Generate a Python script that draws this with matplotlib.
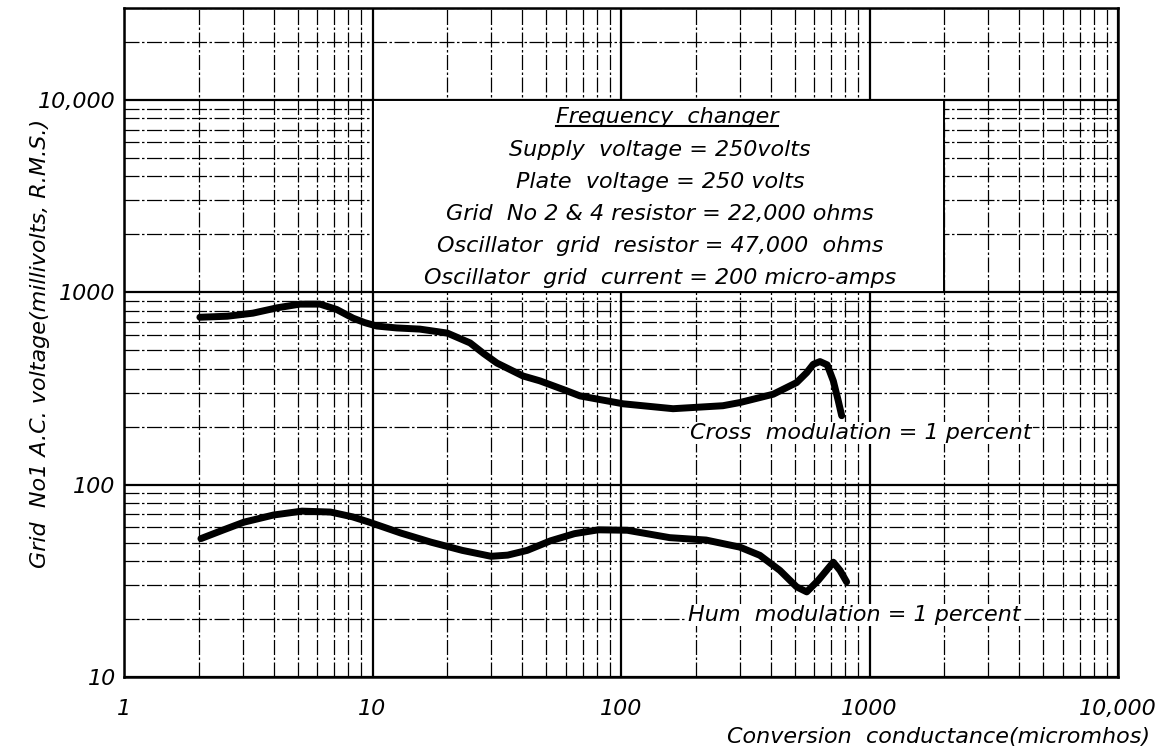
import matplotlib
matplotlib.use('Agg')
import matplotlib.pyplot as plt
from matplotlib.patches import Rectangle
from matplotlib.ticker import LogLocator, NullFormatter

plt.rcParams['font.family'] = ['DejaVu Sans']
plt.rcParams['font.style'] = 'oblique'

# curves
cross_x = [2.02, 2.6, 3.3, 4.12, 5.1, 6.15, 7.18, 8.35, 9.3, 10.4, 12.5, 15.5, 20, 24.7,
           28, 31.7, 40.3, 47.2, 60.6, 68.4, 102, 162, 257, 301, 410, 509, 559, 594,
           632, 676, 715, 749, 773]
cross_y = [741, 750, 778, 829, 867, 867, 813, 733, 695, 667, 652, 643, 613, 545,
           480, 428, 367, 346, 307, 289, 263, 248, 257, 267, 295, 339, 382, 422,
           436, 419, 346, 272, 228]

hum_x = [2.04, 2.5, 3.04, 4.0, 5.2, 6.78, 8.3, 9.7, 13, 17.2, 23, 30, 35, 41.9, 52,
         65, 81, 106, 157, 220, 301, 362, 436, 509, 559, 622, 715, 761, 809]
hum_y = [52.4, 58, 63.8, 69.5, 72.8, 72, 68, 63.8, 56, 50.2, 45.5, 42.4, 43, 45.5, 51,
         55.6, 58.2, 57.9, 53, 51.5, 47.3, 42.9, 35.8, 29.4, 27.7, 31.8, 39.5, 35.8, 31.2]

xticks = [1, 10, 100, 1000, 10000]
xticklabels = ['1', '10', '100', '1000', '10,000']
yticks = [10, 100, 1000, 10000]
yticklabels = ['10', '100', '1000', '10,000']

info_title = 'Frequency  changer'
info_lines = ['Supply  voltage = 250volts',
              'Plate  voltage = 250 volts',
              'Grid  No 2 & 4 resistor = 22,000 ohms',
              'Oscillator  grid  resistor = 47,000  ohms',
              'Oscillator  grid  current = 200 micro-amps']

fig = plt.figure(figsize=(11.62, 7.5), dpi=100)
ax = fig.add_axes([124 / 1162, 1 - 677 / 750, 994 / 1162, 669 / 750])
ax.set_xscale('log')
ax.set_yscale('log')
ax.set_xlim(1, 10000)
ax.set_ylim(10, 30000)

ax.xaxis.set_minor_locator(LogLocator(base=10, subs=range(2, 10), numticks=20))
ax.yaxis.set_minor_locator(LogLocator(base=10, subs=range(2, 10), numticks=20))
ax.xaxis.set_minor_formatter(NullFormatter())
ax.yaxis.set_minor_formatter(NullFormatter())
ax.set_xticks(xticks)
ax.set_xticklabels(xticklabels)
ax.set_yticks(yticks)
ax.set_yticklabels(yticklabels)
ax.tick_params(which='both', length=0, labelsize=16)
ax.tick_params(axis='x', pad=16)
ax.tick_params(axis='y', pad=6)

ax.grid(which='major', color='black', lw=1.6)
ax.grid(which='minor', color='black', lw=0.9, linestyle=(0, (12, 2, 2, 2)))
for s in ax.spines.values():
    s.set_linewidth(1.8)

# blank panel behind the notes
ax.add_patch(Rectangle((10, 1000), 1990, 9000, facecolor='white', edgecolor='black',
                       lw=1.4, zorder=2))

ax.plot(cross_x, cross_y, color='black', lw=5, solid_capstyle='round',
        solid_joinstyle='round', zorder=4)
ax.plot(hum_x, hum_y, color='black', lw=5, solid_capstyle='round',
        solid_joinstyle='round', zorder=4)

ax.text((690 - 124) / 994, (677 - 433) / 669, 'Cross  modulation = 1 percent',
        transform=ax.transAxes, fontsize=16, ha='left', va='center', zorder=5,
        bbox=dict(facecolor='white', edgecolor='none', pad=1))
ax.text((688 - 124) / 994, (677 - 615) / 669, 'Hum  modulation = 1 percent',
        transform=ax.transAxes, fontsize=16, ha='left', va='center', zorder=5,
        bbox=dict(facecolor='white', edgecolor='none', pad=1))

cx = (660 - 124) / 994
t = ax.text((667 - 124) / 994, (677 - 117) / 669, info_title, transform=ax.transAxes,
            fontsize=16, ha='center', va='center', zorder=5)
for i, line in enumerate(info_lines):
    ax.text(cx, (677 - (150 + 32 * i)) / 669, line, transform=ax.transAxes,
            fontsize=16, ha='center', va='center', zorder=5)

# underline the title
fig.canvas.draw()
bb = t.get_window_extent().transformed(ax.transAxes.inverted())
ax.plot([bb.x0, bb.x1], [bb.y0 + 0.002, bb.y0 + 0.002], color='black', lw=1.5,
        transform=ax.transAxes, zorder=5)

fig.text(1150 / 1162, 1 - 737 / 750, 'Conversion  conductance(micromhos)', fontsize=16,
         ha='right', va='center')
fig.text(40 / 1162, 1 - 343 / 750, 'Grid  No1 A.C. voltage(millivolts, R.M.S.)', fontsize=16,
         ha='center', va='center', rotation=90)

fig.savefig('out.png', dpi=100)
